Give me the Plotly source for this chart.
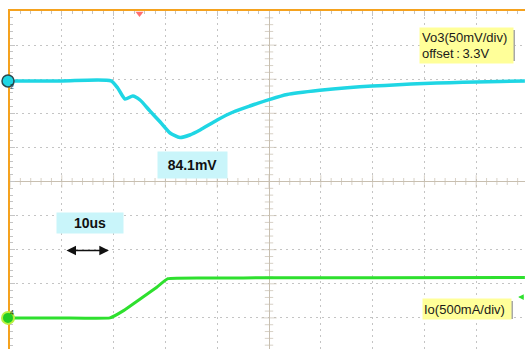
import numpy as np
import plotly.graph_objects as go

# ---------------- data ----------------
# time axis in microseconds relative to screen centre (10 us/div)
vo3_time_us = [-50.0, -40.0, -30.5, -29.2, -27.8, -26.3, -24.9, -23.0, -21.0, -19.1,
               -17.2, -15.3, -13.3, -10.0, -6.9, -3.7, 0.2, 3.5, 9.8, 15.1,
               19.9, 24.9, 29.9, 34.9, 40.0, 44.6, 49.4]
# Vo3 deviation from 3.3 V offset, mV (50 mV/div)
vo3_dev_mv = [0.0, 0.0, 0.0, -10.4, -26.5, -22.1, -28.0, -44.0, -60.3, -76.4,
              -83.0, -79.3, -72.0, -57.3, -45.6, -36.8, -27.0, -20.0, -13.8, -10.0,
              -7.6, -5.6, -3.9, -2.6, -1.5, -0.7, 0.0]

io_time_us = [-50.0, -40.0, -30.7, -28.0, -25.0, -22.0, -19.5, -10.0, 0.0, 20.0, 49.4]
# Io, mA (500 mA/div)
io_ma = [0.0, 0.0, 0.0, 110.0, 270.0, 430.0, 575.0, 585.0, 588.0, 590.0, 592.0]

vo3_scale_mv_per_div = 50.0
io_scale_ma_per_div = 500.0
vo3_ref_div = 2.95     # channel 2 ground marker position (div)
io_ref_div = -4.0      # channel 4 ground marker position (div)
trigger_time_us = -25.0
trigger_level_div = -3.39

label_peak = "84.1mV"
label_time = "10us"
label_vo3 = "Vo3(50mV/div)<br>offset\u2009:\u20093.3V"
label_io = "Io(500mA/div)"

# ---------------- styling / geometry ----------------
W, H = 525, 349
ML, MT = 10, 11
PW, PH = W - ML, H - MT
X_RANGE = [-50.0, -50.0 + PW / 5.18]
Y_RANGE = [5.0 - PH / 34.1, 5.0]

CYAN = "#1fd6e4"
GREEN = "#2ee02e"
ORANGE = "#f5a21e"
GRID = "#c4c4c4"
CENTER = "#c8bfb0"
FONT = "Arial, Liberation Sans, sans-serif"


def px_x(px):
    return (px - ML) / PW


def px_y(py):
    return (H - py) / PH


def div_to_py(d):
    return 181.5 - d * 34.1


vo3_div = [vo3_ref_div + v / vo3_scale_mv_per_div for v in vo3_dev_mv]
io_div = [io_ref_div + v / io_scale_ma_per_div for v in io_ma]

fig = go.Figure()

# centre-line tick marks (graticule decoration)
hx = np.arange(-50, 50, 2.0)
fig.add_trace(go.Scatter(x=hx, y=[0] * len(hx), mode="markers", hoverinfo="skip",
                         marker=dict(symbol="line-ns", size=[9 if abs(v % 10) < 1e-6 else 5 for v in hx],
                                     line=dict(color=CENTER, width=1))))
vy = np.arange(-5, 5, 0.2)
fig.add_trace(go.Scatter(x=[0] * len(vy), y=vy, mode="markers", hoverinfo="skip",
                         marker=dict(symbol="line-ew", size=[11 if abs(v - round(v)) < 1e-6 else 6 for v in vy],
                                     line=dict(color=CENTER, width=1))))

# waveforms
fig.add_trace(go.Scatter(x=vo3_time_us, y=vo3_div, mode="lines", hoverinfo="skip",
                         line=dict(color=CYAN, width=3.5, shape="spline", smoothing=0.6)))
fig.add_trace(go.Scatter(x=io_time_us, y=io_div, mode="lines", hoverinfo="skip",
                         line=dict(color=GREEN, width=3, shape="spline", smoothing=0.3)))

# trigger position marker
fig.add_trace(go.Scatter(x=[trigger_time_us], y=[4.93], mode="markers", cliponaxis=False, hoverinfo="skip",
                         marker=dict(symbol="triangle-down", size=7, color="#ff7070")))

# channel ground markers (circles at the left edge)
for ref, fill, ring, rw in [(vo3_ref_div, CYAN, "#2a4a50", 1.5), (io_ref_div, "#22cc22", "#b8f040", 2)]:
    cy = div_to_py(ref)
    fig.add_shape(type="circle", xref="paper", yref="paper",
                  x0=px_x(8 - 6), x1=px_x(8 + 6), y0=px_y(cy + 6), y1=px_y(cy - 6),
                  fillcolor=fill, line=dict(color=ring, width=rw), layer="above")

# shadows for yellow labels
for (x0, y0, x1, y1) in [(419, 27, 512, 58), (422, 298, 510, 316)]:
    fig.add_shape(type="rect", xref="paper", yref="paper",
                  x0=px_x(x0 + 3), x1=px_x(x1 + 3), y0=px_y(y1 + 3), y1=px_y(y0 + 3),
                  line=dict(width=0), fillcolor="#a8a8a8", layer="above")

annotations = [
    dict(text="<b>%s</b>" % label_peak, xref="paper", yref="paper", x=px_x(157), y=px_y(151),
         xanchor="left", yanchor="top", width=69, height=26, bgcolor="#c9f5fa",
         font=dict(size=14, color="#111111", family=FONT), showarrow=False, borderpad=0),
    dict(text="<b>%s</b>" % label_time, xref="paper", yref="paper", x=px_x(56), y=px_y(212),
         xanchor="left", yanchor="top", width=66, height=20, bgcolor="#c9f5fa",
         font=dict(size=14, color="#111111", family=FONT), showarrow=False, borderpad=0),
    dict(text=label_vo3, xref="paper", yref="paper", x=px_x(419), y=px_y(27),
         xanchor="left", yanchor="top", width=89, height=31, bgcolor="#ffff99", align="left",
         font=dict(size=13, color="#1a1a1a", family=FONT), showarrow=False, borderpad=2),
    dict(text=label_io, xref="paper", yref="paper", x=px_x(422), y=px_y(298),
         xanchor="left", yanchor="top", width=86, height=18, bgcolor="#ffff99", align="left",
         font=dict(size=13, color="#1a1a1a", family=FONT), showarrow=False, borderpad=1),
    dict(text="2", xref="paper", yref="paper", x=px_x(8), y=px_y(div_to_py(vo3_ref_div)),
         showarrow=False, font=dict(size=7, color="#0a3a40", family=FONT)),
    dict(text="4", xref="paper", yref="paper", x=px_x(8), y=px_y(div_to_py(io_ref_div)),
         showarrow=False, font=dict(size=7, color="#0a400a", family=FONT)),
    # 10 us double arrow
    dict(text="", x=-30.9, y=(181.5 - 250.5) / 34.1, ax=-39.4, ay=(181.5 - 250.5) / 34.1,
         xref="x", yref="y", axref="x", ayref="y", showarrow=True, arrowside="end+start",
         arrowhead=2, arrowsize=1.2, arrowwidth=1.6, arrowcolor="#111111"),
    # trigger level arrow (right edge)
    dict(text="", x=48.1, y=trigger_level_div, ax=7, ay=0, xref="x", yref="y",
         showarrow=True, arrowhead=2, arrowsize=0.8, arrowwidth=1.4, arrowcolor=GREEN),
]

fig.update_layout(
    width=W, height=H, margin=dict(l=ML, r=0, t=MT, b=0),
    paper_bgcolor="white", plot_bgcolor="white", showlegend=False,
    annotations=annotations, hovermode=False,
    xaxis=dict(range=X_RANGE, side="top", showticklabels=False, tick0=0, dtick=10,
               showgrid=True, gridcolor=GRID, gridwidth=1, griddash="2px,4px",
               zeroline=True, zerolinecolor=CENTER, zerolinewidth=1,
               showline=True, linecolor=ORANGE, linewidth=2,
               ticks="inside", ticklen=5, tickcolor=GRID,
               minor=dict(dtick=2, ticks="inside", ticklen=3, tickcolor=GRID, showgrid=False)),
    yaxis=dict(range=Y_RANGE, showticklabels=False, tick0=0, dtick=1,
               showgrid=True, gridcolor=GRID, gridwidth=1, griddash="2px,4px",
               zeroline=True, zerolinecolor=CENTER, zerolinewidth=1,
               showline=True, linecolor=ORANGE, linewidth=2,
               ticks="inside", ticklen=5, tickcolor=GRID,
               minor=dict(dtick=0.2, ticks="inside", ticklen=3, tickcolor=GRID, showgrid=False)),
)

fig.write_html("out.html", config={"displayModeBar": False},
               post_script="document.body.style.margin='0px';document.body.style.padding='0px';"
                           "document.body.style.overflow='hidden';")
